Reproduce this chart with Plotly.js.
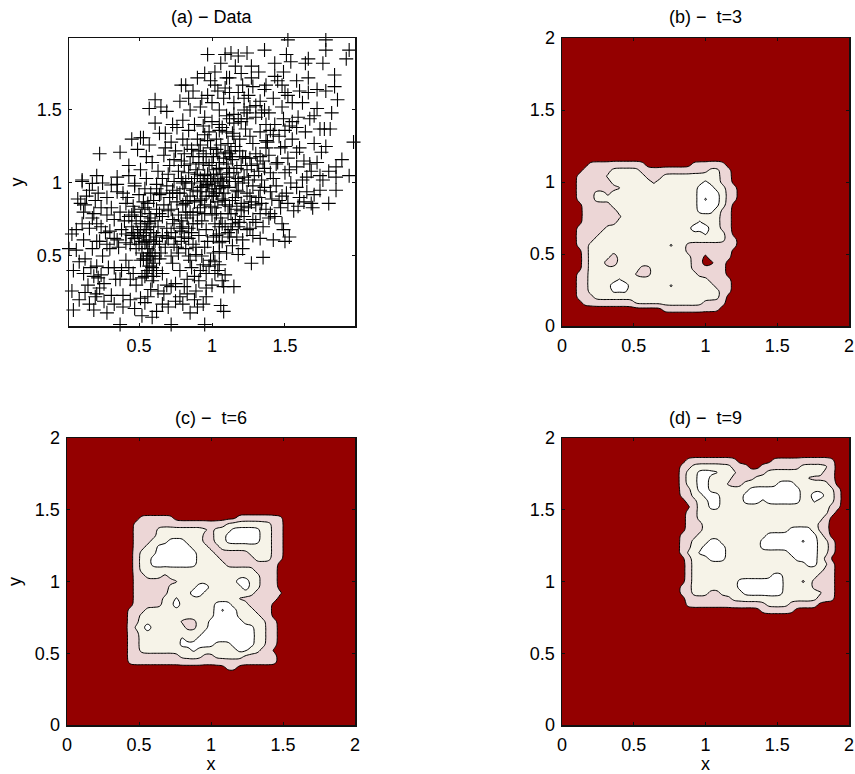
<!DOCTYPE html>
<html><head><meta charset="utf-8">
<script src="https://cdn.plot.ly/plotly-3.0.1.min.js"></script>
<style>html,body{margin:0;padding:0;background:#fff}</style></head>
<body><div id="chart" style="width:855px;height:774px"></div>
<script>
// panel (a): x,y pairs
const dataPairs = [
.97,1.88,.79,1.67,.82,1.67,.90,1.72,.61,1.57,.57,1.51,.65,1.52,.69,1.49,.78,1.56,.84,1.58,.87,1.63,.95,1.75,.93,1.58,.23,1.20,.37,1.21,.45,1.30,.51,1.31,.53,1.31,.61,1.41,.73,1.40,.64,1.34,.68,1.34,.80,1.43,.85,1.50,.11,1.02,.21,1.05,.35,1.04,.43,1.12,.57,1.26,.49,1.23,.55,1.18,
1.52,1.98,1.78,1.98,1.94,1.91,1.92,1.85,1.78,1.91,1.36,1.91,1.24,1.89,1.13,1.89,1.09,1.88,1.18,1.87,1.51,1.88,1.66,1.85,1.64,1.82,1.76,1.82,1.54,1.83,1.43,1.82,1.27,1.80,1.32,1.76,1.49,1.76,1.84,1.74,1.66,1.72,1.58,1.70,1.43,1.73,1.12,1.72,1.02,1.67,1.04,1.63,1.21,1.67,1.37,1.67,1.48,1.67,1.84,1.66,1.78,1.63,1.72,1.64,1.60,1.63,1.52,1.60,1.86,1.57,1.72,1.51,1.82,1.48,1.59,1.45,1.49,1.44,1.67,1.44,1.10,1.46,1.24,1.48,1.36,1.50,1.43,1.40,1.53,1.39,1.74,1.37,1.77,1.37,1.81,1.37,1.64,1.35,1.97,1.28,1.70,1.27,1.78,1.25,1.75,1.21,1.89,1.16,1.85,1.11,1.94,1.05,1.85,1.04,1.74,1.05,1.67,1.13,1.58,1.21,1.50,1.25,1.37,1.29,1.26,1.32,1.15,1.32,1.05,1.36,1.53,1.09,1.44,1.13,1.33,1.18,1.21,1.18,1.12,1.20,1.03,1.23,1.65,1.04,
1.85,.95,1.80,.86,1.68,.86,1.59,.84,1.56,.81,1.69,.83,1.47,.83,1.51,.93,1.65,.94,1.74,.95,1.40,.79,1.33,.79,1.48,.72,1.49,.68,1.53,.63,1.50,.60,1.42,.61,1.35,.49,1.27,.45,1.18,.51,1.21,.55,1.15,.29,1.08,.29,1.06,.16,1.08,.12,1.09,.37,1.02,.38,1.05,.44,1.05,.53,1.02,.46,1.28,.64,1.21,.61,1.12,.63,1.13,.68,1.28,.75,1.35,.70,1.39,.76,1.20,.81,1.05,.59,1.05,.70,1.16,.75,1.03,.79,1.09,.88,1.26,.91,1.33,.95,1.41,.89,1.01,.91,1.17,.95,1.05,.96,1.25,.83,1.18,.70,1.01,.63,1.11,.79,1.24,.68,
.37,.03,.72,.03,.95,.03,.05,.13,.04,.26,.12,.38,.07,.54,.02,.55,.04,.65,.12,.61,.19,.13,.28,.11,.39,.15,.52,.09,.59,.08,.70,.15,.80,.17,.90,.15,.85,.11,.94,.17,.21,.24,.23,.28,.31,.23,.39,.23,.20,.22,.51,.21,.56,.22,.67,.24,.54,.18,.78,.22,.89,.26,.81,.29,.72,.29,.96,.28,.19,.36,.24,.37,.21,.43,.37,.34,.44,.34,.52,.35,.60,.36,.33,.42,.43,.42,.51,.47,.56,.50,.65,.52,.73,.45,.85,.47,.89,.51,.92,.40,.88,.36,.96,.38,.25,.50,.28,.58,.23,.60,.35,.61,.41,.59,.45,.64,.51,.68,.54,.59,.30,.67,.21,.72,.10,.86,.12,.80,.19,.79,.22,.93,.31,.83,.35,.94,.41,.86,.45,.78,.53,.87,.56,.735,.64,.79,.69,.63,.76,.56,.84,.50,.89,.56,.79,.67,.73,.75,.87,.72,.82,.86,.73,.93,.92,.88,.95,.79,.62,.99,.47,.998,.31,.986,.18,.997,.11,1.01,.64,.92,.80,1.0,.92,.97,
.98,1.12,1.01,1.18,1.03,1.09,1.05,1.14,1.07,1.02,1.09,1.21,1.12,1.07,1.14,1.16,1.16,1.01,1.17,1.10,1.19,1.22,1.22,1.04,1.06,.98,1.02,1.01,.97,1.06,.94,1.13,.92,1.03,.89,1.09,.86,1.0,.84,1.07,.81,.96,.79,1.03,.76,.93,.74,1.01,.71,.9,.69,.98,.67,.85,.65,.93,.62,.82,.6,.88,.9,.94,.93,.89,.96,.98,.99,.84,1.0,.91,1.04,.87,1.08,.93,1.11,.97,1.14,.88,1.18,.94,1.21,1.0,1.24,1.09,1.26,1.17,1.29,1.05,1.31,1.13,1.34,1.02,1.36,1.1,1.39,1.19,1.42,1.03,1.45,1.14,1.47,1.24,1.5,1.07,1.52,1.17,1.55,1.3,1.58,1.11,1.6,1.24,1.63,1.15,1.42,1.33,1.38,1.28,1.33,1.35,1.28,1.27,1.23,1.37,1.19,1.3,1.15,1.41,1.11,1.27,1.07,1.38,1.03,1.3,.99,1.24,.95,1.33,.91,1.22,.87,1.18,.83,1.26,.79,1.15,.75,1.22,.71,1.12,.67,1.19,.63,1.08,.59,1.14,.55,1.03,.51,1.09,.47,.98,.43,1.05,.39,.93,.35,.99,.28,.9,.25,1.0,.2,.88,.16,.95,.13,.85,.42,.9,.46,.84,.5,.92,.54,.96,.57,.79,.61,.74,.66,.77,.7,.81,.74,.72,.77,.78,.8,.7,.83,.76,.86,.66,.9,.8,.93,.74,.96,.68,1.0,.78,1.02,.83,1.06,.76,1.09,.7,1.12,.84,1.16,.9,1.2,.86,1.24,.93,1.28,.98,1.32,.9,1.36,.97,1.4,.94,1.44,.98,1.48,.91,1.54,1.0,1.58,.97,1.62,1.02,1.68,1.08,1.72,1.14,1.76,1.02,1.8,1.08,
1.0,1.42,1.05,1.5,1.08,1.58,1.12,1.44,1.15,1.55,1.18,1.62,1.22,1.5,1.25,1.6,1.27,1.72,1.3,1.45,1.33,1.56,1.36,1.64,1.39,1.48,1.42,1.58,1.45,1.7,1.48,1.52,1.5,1.62,1.55,1.55,1.58,1.38,1.62,1.55,1.66,1.62,1.7,1.46,1.2,1.75,1.16,1.8,1.28,1.66,.95,1.45,.92,1.52,.88,1.4,.84,1.36,.8,1.3,.76,1.38,.72,1.28,.68,1.24,.97,1.6,.99,1.7,1.02,1.76,1.06,1.82,1.1,1.72,.9,1.3,.94,1.2,.98,1.35,1.14,1.34,1.18,1.44,
.45,.7,.47,.62,.49,.66,.51,.72,.52,.6,.53,.64,.55,.68,.56,.55,.57,.61,.58,.66,.59,.52,.6,.58,.62,.63,.63,.7,.48,.55,.44,.58,.41,.65,.38,.68,.36,.56,.33,.62,.3,.55,.27,.66,.24,.7,.55,.47,.57,.43,.58,.5,.56,.4,.54,.36,.59,.33,.6,.45,.62,.4,.64,.48,.66,.38,.68,.56,.7,.62,.72,.5,.74,.58,.77,.52,.79,.6,.82,.55,.84,.62,.87,.58,.91,.64,.93,.5,.95,.56,.97,.6,.99,.47,1.01,.52,.98,.43,.94,.44,.91,.33,.86,.42,.83,.34,.78,.4,.75,.31,.69,.3,.63,.26,.58,.27,.48,.3,.46,.38,.41,.47,.38,.4,.34,.34,.29,.42,.26,.31,.22,.35,.17,.42,.15,.3,.13,.48,.18,.55,.21,.6,.16,.69,.11,.72,.07,.68,.09,.46,.05,.4,.33,.75,.37,.8,.4,.74,.43,.77,.47,.8,.51,.77,.54,.83,.58,.76,.28,.78,.24,.83,.18,.76,.14,.91,.08,.89,
1.03,.64,1.07,.6,1.1,.52,1.14,.57,1.17,.63,1.19,.73,1.22,.77,1.26,.69,1.3,.73,1.33,.62,1.37,.82,1.43,.77,1.46,.88,1.52,.86,1.6,.9,1.63,.87,1.7,.92,1.04,.4,1.07,.33,1.0,.3,.96,.22,.88,.2,.83,.24,.75,.19,.66,.17,.62,.12,.47,.14,.44,.2,.33,.17,.26,.19,.16,.17,.13,.25,.09,.2,
1.0,1.0,1.02,.96,1.04,1.03,1.06,1.06,1.08,.98,1.1,1.04,1.12,1.01,1.01,1.06,.99,1.03,.97,.99,.95,1.05,.93,.97,1.05,1.1,1.1,1.13,1.13,1.18,.98,.94,1.03,.93,1.07,.89,1.09,.85,.96,.91,.94,1.01,.9,1.06,.87,.95,.85,.91,.82,1.01,.83,.88,.8,.85,.78,.93,.76,.87,.73,.95,.72,.82,.77,1.08,.81,1.12,.85,1.13,.88,1.03,.91,1.14,.96,1.18,1.0,1.14,1.04,1.2,1.08,1.17,1.11,1.1,1.15,1.07,1.18,1.03,1.2,1.12,1.23,1.17,1.25,1.02,1.27,1.12,1.3,1.2,1.32,1.08,1.35,1.15,1.37,1.24,1.4,1.07,1.16,1.25,1.13,1.22,1.06,1.26,.97,1.29,.92,1.26,.86,1.23,.81,1.2,.74,1.16,.7,1.06,.66,1.03,.62,.96,.58,.93,.56,.86,.52,.82,.48,.74,.46,.66,.5,.63,.54,.7,.57,.72,.6,.66,.61,.6,.55,.6,.52,.52,.5,.58,.57,.52,.53,.48,.59,.42,.55,.38,.61,.5,.64,.58,.66,.64,.69,.69,.72,.66,.75,.63,.78,.69,.81,.63,.84,.69,.87,.78,.9,.72,.92,.83,.95,.85,.88,.87,.85,.8,.82,.8,.79,.74,1.02,.72,1.05,.65,1.07,.72,1.11,.66,1.14,.72,1.13,.79,1.17,.82,1.22,.84,1.3,.85,1.34,.86,1.27,.87,
1.15,1.47,1.2,1.42,1.24,1.44,1.26,1.52,1.3,1.53,1.34,1.48,1.37,1.4,1.4,1.36,1.46,1.32,1.5,1.36,1.55,1.42,1.22,1.58,1.12,1.62,1.09,1.65,1.05,1.4,1.1,1.35,.94,1.39,1.0,1.55
];
const dataX = dataPairs.filter((_, i) => i % 2 === 0);
const dataY = dataPairs.filter((_, i) => i % 2 === 1);

// density classes on the 51x51 grid: "class-lastColumn" runs per row, top row first
const baseLevel = {0:0, 1:1, 2:2, 3:3, a:2, b:3, c:1, e:2, w:3, p:1, o:1};
const pinnedLevel = {a:2.6, b:3.6, c:0.3, e:1.4, w:3, p:1, o:0};
const gridAxis = Array.from({length:51}, (_, i) => +(i*0.04).toFixed(2));

const topRowB = 28;
const rowsB = [
"0-4 1-14 0-22 1-28",
"0-3 1-8 2-13 1-25 2-27 1-29",
"0-2 1-7 2-14 1-17 2-27 1-29",
"0-2 1-8 2-15 1-16 2-24 3-25 2-27 1-29",
"0-2 1-10 2-23 3-26 2-28 1-30",
"0-2 1-5 2-7 1-8 2-23 3-27 2-28 1-30",
"0-2 1-5 2-23 3-24 b-25 3-27 2-28 1-30",
"0-3 1-8 2-23 3-27 2-28 1-29",
"0-3 1-9 2-23 3-26 2-27 1-29",
"0-3 1-10 2-27 1-29",
"0-3 1-9 2-23 a-24 2-27 1-29",
"0-2 1-7 2-22 w-25 2-27 1-29",
"0-2 1-6 2-24 a-25 2-28 1-29",
"0-2 1-5 2-28 1-30",
"0-2 1-4 2-18 a-19 2-21 1-30",
"0-3 1-4 2-21 1-29",
"0-3 1-4 2-8 p-9 2-22 1-24 c-25 1-29",
"0-3 1-4 2-7 p-9 2-22 1-24 o-25 c-26 1-28",
"0-3 1-4 2-13 1-15 2-22 1-28",
"0-2 1-4 2-12 1-15 2-23 1-28",
"0-2 1-4 2-9 a-10 2-25 1-29",
"0-2 1-4 2-8 w-11 2-18 a-19 2-26 1-29",
"0-2 1-4 2-8 a-11 2-27 1-29",
"0-2 1-5 2-27 1-28",
"0-3 1-12 2-24 1-28",
"0-17 1-27"
];
const topRowC = 36;
const rowsC = [
"0-12 1-18 0-29 1-37",
"0-11 1-27 2-35 1-37",
"0-11 1-15 2-24 1-25 2-28 3-33 2-35 1-37",
"0-11 1-15 2-23 1-25 2-27 3-33 2-35 1-37",
"0-11 1-14 2-17 3-20 2-23 1-25 2-27 3-33 2-35 1-37",
"0-11 1-13 2-15 3-21 2-24 1-26 2-35 1-37",
"0-11 1-12 2-15 3-22 2-25 1-31 2-35 1-37",
"0-11 1-12 2-14 3-22 2-26 1-32 2-35 1-37",
"0-11 1-12 2-14 3-22 2-27 1-36",
"0-11 1-12 2-32 1-36",
"0-11 1-13 2-16 1-17 2-33 1-36",
"0-11 1-19 2-29 w-31 2-33 1-36",
"0-11 1-17 2-22 w-24 2-30 w-31 2-33 1-36",
"0-11 1-17 2-21 w-23 2-32 1-37",
"0-11 1-16 2-18 a-19 2-29 1-36",
"0-11 1-16 2-18 w-19 2-25 3-28 2-31 1-35",
"0-10 1-13 2-25 3-26 b-27 3-29 2-32 1-35",
"0-10 1-12 2-25 3-29 2-33 1-35",
"0-10 1-12 2-19 1-22 2-24 3-30 2-34 1-36",
"0-10 1-11 2-13 w-14 2-20 1-22 2-24 3-32 2-34 1-36",
"0-10 1-12 2-23 3-32 2-34 1-36",
"0-10 1-12 2-19 3-20 2-22 3-32 2-34 1-36",
"0-10 1-12 2-19 3-25 2-28 3-32 2-34 1-36",
"0-10 1-12 2-21 3-22 2-29 3-31 2-33 1-35",
"0-10 1-19 2-23 1-25 2-30 1-36",
"0-10 1-36",
"0-27 1-29"
];
const topRowD = 46;
const rowsD = [
"0-21 1-30 0-36 1-47",
"0-20 1-22 2-29 1-32 0-34 1-41 2-46 1-47",
"0-20 1-21 2-23 3-27 2-30 1-35 2-45 1-47",
"0-20 1-21 2-23 3-25 2-29 1-33 2-42 1-47",
"0-20 1-21 2-23 3-25 2-28 1-31 2-37 3-40 2-46 1-47",
"0-20 1-22 2-23 3-25 2-32 3-41 2-47 1-48",
"0-20 1-22 2-24 3-27 2-31 3-41 2-43 w-45 2-47 1-48",
"0-21 1-23 2-25 3-27 2-31 3-34 2-35 3-41 2-43 a-44 2-47 1-48",
"0-22 1-23 2-25 3-27 2-46 1-48",
"0-21 1-23 2-46 1-47",
"0-21 1-23 2-45 1-46",
"0-21 1-24 2-44 1-46",
"0-21 1-24 2-39 3-43 2-44 1-46",
"0-20 1-23 2-35 3-44 2-45 1-46",
"0-20 1-22 2-25 3-27 2-34 3-41 b-42 3-44 2-46 1-47",
"0-20 1-22 2-24 3-28 2-34 3-44 2-46 1-47",
"0-20 1-21 2-23 3-28 2-39 3-44 2-46 1-47",
"0-21 1-22 2-25 3-28 2-40 3-44 2-45 1-46",
"0-21 1-22 2-42 3-44 2-46 1-47",
"0-21 1-22 2-45 1-47",
"0-21 1-22 2-36 3-38 2-44 1-47",
"0-21 1-22 2-30 3-38 2-41 e-42 2-43 1-47",
"0-20 1-22 2-30 3-38 2-43 1-47",
"0-20 1-22 2-25 1-27 2-31 3-38 2-45 1-47",
"0-21 1-29 2-44 1-47",
"0-21 1-35 2-39 1-44",
"0-34 1-40"
];
const panelTitles = ["(a) \u2212 Data", "(b) \u2212  t=3", "(c) \u2212  t=6", "(d) \u2212  t=9"];
const ticksA = [0.5, 1, 1.5];
const ticksAText = ["0.5", "1", "1.5"];
const ticksFull = [0, 0.5, 1, 1.5, 2];
const tickTextFull = ["0", "0.5", "1", "1.5", "2"];

// Turn the traced class map into a field: soften the cell steps, keep the tiny marked features.
function expandRows(rows, topRow) {
  const n = gridAxis.length;
  const base = gridAxis.map(() => new Array(n).fill(0));
  const pins = [];
  rows.forEach((s, k) => {
    let c = 0;
    s.split(" ").forEach(tok => {
      const [v, end] = tok.split("-");
      for (; c <= +end; c++) {
        base[topRow - k][c] = baseLevel[v];
        if (v in pinnedLevel) pins.push([topRow - k, c, pinnedLevel[v]]);
      }
    });
  });
  const at = (g, j, i) => g[Math.max(0, Math.min(n-1, j))][Math.max(0, Math.min(n-1, i))];
  const h = base.map((r, j) => r.map((_, i) => (at(base,j,i-1) + 4*at(base,j,i) + at(base,j,i+1)) / 6));
  const z = h.map((r, j) => r.map((_, i) => (at(h,j-1,i) + 4*at(h,j,i) + at(h,j+1,i)) / 6));
  pins.forEach(([j, i, v]) => { z[j][i] = v; });
  return z;
}

const W = 855, H = 774;
const FONT = "Liberation Sans, Arial, sans-serif";
const INK = "#111";
const frames = [[69,355,38,326],[562,849,38,326],[67,355,438,725],[562,849,438,725]];
const dx = f => [f[0]/W, f[1]/W];
const dy = f => [1 - f[3]/H, 1 - f[2]/H];

function axis(frame, isX, anchor, ticks, text, range, title) {
  const a = {
    domain: isX ? dx(frame) : dy(frame), anchor, range,
    tickmode: "array", tickvals: ticks, ticktext: text,
    ticks: "inside", ticklen: 3, tickwidth: 1, tickcolor: INK,
    showline: true, linecolor: INK, linewidth: 1.5, mirror: "ticks",
    showgrid: false, zeroline: false, automargin: false,
    ticklabelstandoff: isX ? 3 : 2,
    tickfont: {family: FONT, size: 18, color: "#000"}
  };
  if (title) a.title = {text: title, font: {family: FONT, size: 18, color: "#000"}, standoff: isX ? 14 : 8};
  return a;
}

const bands = [[0,"#940000"],[0.25,"#ecd6d6"],[0.5,"#f6f3e8"],[0.75,"#ffffff"],[1,"#ffffff"]];
function contourTrace(rows, topRow, xa, ya) {
  return {
    type: "contour", x: gridAxis, y: gridAxis, z: expandRows(rows, topRow), xaxis: xa, yaxis: ya,
    autocontour: false, contours: {start: 0.5, end: 3.5, size: 1, coloring: "fill", showlines: true},
    colorscale: bands, zmin: 0, zmax: 4, zauto: false, showscale: false,
    line: {color: "#000", width: 1, smoothing: 1.3}, hoverinfo: "skip"
  };
}

const traces = [
  {type: "scatter", mode: "markers", x: dataX, y: dataY, xaxis: "x", yaxis: "y", cliponaxis: false,
   marker: {symbol: "cross-thin", size: 10, line: {color: "#000", width: 1.1}}, hoverinfo: "skip"},
  contourTrace(rowsB, topRowB, "x2", "y2"),
  contourTrace(rowsC, topRowC, "x3", "y3"),
  contourTrace(rowsD, topRowD, "x4", "y4")
];

const layout = {
  width: W, height: H, autosize: false, showlegend: false,
  margin: {l: 0, r: 0, t: 0, b: 0}, paper_bgcolor: "#fff", plot_bgcolor: "#fff",
  font: {family: FONT, color: "#000"},
  xaxis:  axis(frames[0], true,  "y",  ticksA, ticksAText, [0.02, 1.98]),
  yaxis:  axis(frames[0], false, "x",  ticksA, ticksAText, [0.02, 1.993], "y"),
  xaxis2: axis(frames[1], true,  "y2", ticksFull, tickTextFull, [0, 2]),
  yaxis2: axis(frames[1], false, "x2", ticksFull, tickTextFull, [0, 2]),
  xaxis3: axis(frames[2], true,  "y3", ticksFull, tickTextFull, [0, 2], "x"),
  yaxis3: axis(frames[2], false, "x3", ticksFull, tickTextFull, [0, 2], "y"),
  xaxis4: axis(frames[3], true,  "y4", ticksFull, tickTextFull, [0, 2], "x"),
  yaxis4: axis(frames[3], false, "x4", ticksFull, tickTextFull, [0, 2]),
  annotations: panelTitles.map((t, i) => ({
    text: t, showarrow: false, xref: "paper", yref: "paper", xanchor: "center", yanchor: "middle",
    x: (frames[i][0] + frames[i][1]) / 2 / W, y: 1 - (frames[i][2] - 20.5) / H,
    font: {family: FONT, size: 18, color: "#000"}
  }))
};
Plotly.newPlot("chart", traces, layout, {displayModeBar: false, staticPlot: true});
</script></body></html>
